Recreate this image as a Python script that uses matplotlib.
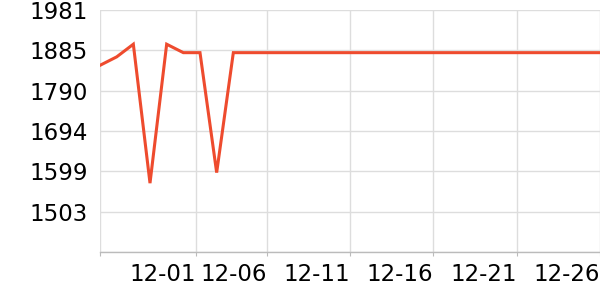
import matplotlib
matplotlib.use("Agg")
import matplotlib.pyplot as plt
import numpy as np

dates = ["11-%02d" % d for d in range(26, 31)] + ["12-%02d" % d for d in range(1, 27)]
values = [1850, 1870, 1900, 1571, 1900, 1880, 1880, 1596] + [1880] * 23

tick_pos = [0, 5.76, 10, 15, 20, 25, 30]
tick_labels = ["", "12-01", "12-06", "12-11", "12-16", "12-21", "12-26"]
y_min, y_max = 1408, 1981
y_ticks = [y_min + (y_max - y_min) * k / 6 for k in range(7)]
y_labels = [""] + [str(int(v)) for v in y_ticks[1:]]

fig = plt.figure(figsize=(6, 3), dpi=100)
ax = fig.add_axes([100/600, 48/300, 500/600, 242/300])
x = np.arange(len(dates))
ax.plot(x, values, color="#ee4b2e", lw=2.2, solid_joinstyle="miter", zorder=3)
ax.set_xlim(0, 30)
ax.set_ylim(y_min, y_max)
ax.set_xticks(tick_pos)
ax.set_xticklabels(tick_labels, ha="right", fontsize=16.5)
ax.set_yticks(y_ticks)
ax.set_yticklabels(y_labels, fontsize=16.5)
ax.grid(True, color="#dddddd", lw=1)
ax.set_axisbelow(True)
for s in ["top", "right", "left"]:
    ax.spines[s].set_visible(False)
ax.spines["bottom"].set_color("#bbbbbb")
ax.spines["bottom"].set_linewidth(1)
ax.tick_params(axis="y", length=0, pad=9)
ax.tick_params(axis="x", length=3, color="#bbbbbb", pad=5)
fig.savefig("out.png", dpi=100)
